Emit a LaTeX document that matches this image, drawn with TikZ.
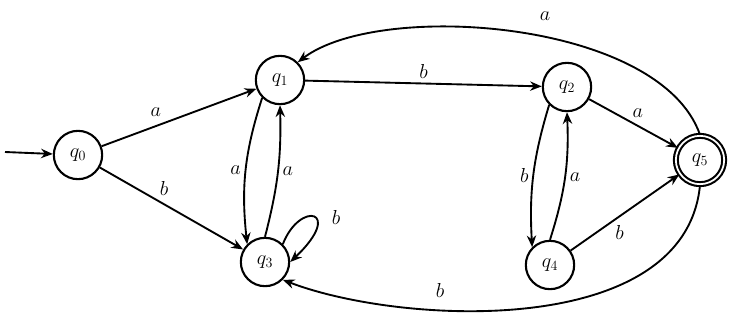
\documentclass[tikz,border=0pt]{standalone}
\usetikzlibrary{arrows.meta}
\begin{document}
\begin{tikzpicture}[x=0.03cm,y=-0.03cm,
  state/.style={circle,draw,line width=1.8pt,minimum size=1.45cm,inner sep=0pt,font=\LARGE},
  acc/.style={state,double,double distance=1.5pt},
  tr/.style={-{Stealth[length=10pt,width=8pt]},line width=1.6pt},
  lbl/.style={font=\LARGE}]
\useasboundingbox (0,0) rectangle (742,332);
\node[state] (q0) at (78,155) {$q_0$};
\node[state] (q1) at (280,80) {$q_1$};
\node[state] (q2) at (567,87) {$q_2$};
\node[state] (q3) at (265,262) {$q_3$};
\node[state] (q4) at (550,265) {$q_4$};
\node[acc] (q5) at (700,160) {$q_5$};
\coordinate (s) at (5,152);
\draw[tr] (s) -- (q0);
\draw[tr] (q0) -- node[lbl,above,pos=0.35,yshift=4pt] {$a$} (q1);
\draw[tr] (q0) -- node[lbl,above,pos=0.4,xshift=6pt] {$b$} (q3);
\draw[tr] (q1) -- node[lbl,above] {$b$} (q2);
\draw[tr] (q1.south west) to[bend right=12] node[lbl,left] {$a$} (q3.north west);
\draw[tr] (q3.north) to[bend right=8] node[lbl,right] {$a$} (q1.south);
\draw[tr] (q3.north east) .. controls (300,200) and (345,210) .. (q3.east);
\node[lbl] (lb) at (336,217) {$b$};
\draw[tr] (q2) -- node[lbl,above,pos=0.55,yshift=3pt] {$a$} (q5);
\draw[tr] (q2.south west) to[bend right=10] node[lbl,left] {$b$} (q4.north west);
\draw[tr] (q4.north) to[bend right=10] node[lbl,right] {$a$} (q2.south);
\draw[tr] (q4) -- node[lbl,below,pos=0.45,yshift=-4pt] {$b$} (q5);
\draw[tr] (q5.north) .. controls (660,20) and (380,0) .. (q1.north east);
\node[lbl] (la) at (545,16) {$a$};
\draw[tr] (q5.south) .. controls (685,340) and (400,325) .. (q3.south east);
\node[lbl] (lb2) at (440,290) {$b$};
\end{tikzpicture}
\end{document}
